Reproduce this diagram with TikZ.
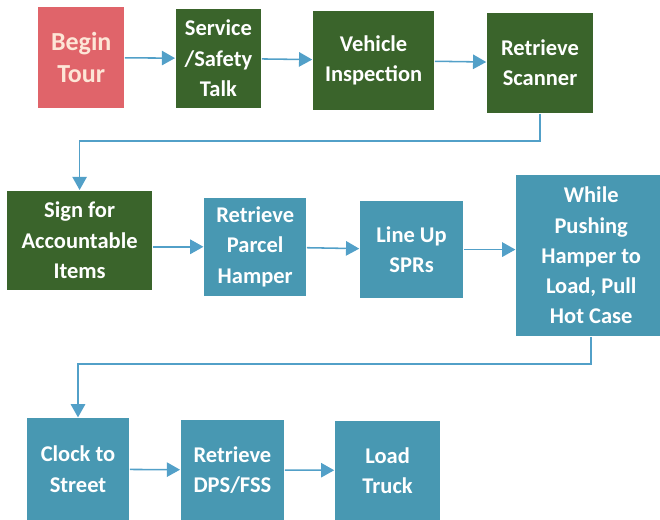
\documentclass[tikz,border=0pt]{standalone}
\usepackage{fontspec}
\setmainfont{Carlito}
\usepackage{tikz}
\usetikzlibrary{arrows.meta,calc,positioning}
\definecolor{tourred}{RGB}{224,100,106}
\definecolor{taskgreen}{RGB}{58,100,43}
\definecolor{taskblue}{RGB}{72,152,178}
\definecolor{lineblue}{RGB}{82,160,200}
\definecolor{peach}{RGB}{253,230,215}

\begin{document}
\begin{tikzpicture}
[-{Triangle[length=3.3mm,width=3.6mm]}, draw=lineblue, line width=1.1pt,
			box/.style={rectangle, inner sep=0pt, align=center, text=white,
			font=\fontsize{16}{21.5}\selectfont\bfseries}]
\useasboundingbox (0,0) rectangle (16.5,13);

\node (begin) at (2.03,11.56)[box,fill=tourred,text=peach,font=\fontsize{18.5}{23}\selectfont\bfseries,minimum width=2.15cm,minimum height=2.53cm] {Begin\\Tour};
\node (talk) at (5.46,11.54)[box,fill=taskgreen,minimum width=2.13cm,minimum height=2.48cm] {Service\\/Safety\\Talk};
\node (insp) at (9.34,11.49)[box,fill=taskgreen,minimum width=3.03cm,minimum height=2.48cm] {Vehicle\\Inspection};
\node (scan) at (13.5,11.43)[box,fill=taskgreen,minimum width=2.65cm,minimum height=2.5cm] {Retrieve\\Scanner};

\node (sign) at (1.99,6.99)[box,fill=taskgreen,minimum width=3.63cm,minimum height=2.48cm] {Sign for\\Accountable\\Items};
\node (hamp) at (6.38,6.83)[box,fill=taskblue,minimum width=2.55cm,minimum height=2.45cm] {Retrieve\\Parcel\\Hamper};
\node (spr) at (10.29,6.76)[box,fill=taskblue,minimum width=2.58cm,minimum height=2.43cm] {Line Up\\SPRs};
\node (hot) at (14.78,6.61)[box,fill=taskblue,minimum width=3.75cm,minimum height=4.03cm] {While\\Pushing\\Hamper to\\Load, Pull\\Hot Case};

\node (clock) at (1.95,1.27)[box,fill=taskblue,minimum width=2.55cm,minimum height=2.55cm] {Clock to\\Street};
\node (dps) at (5.81,1.25)[box,fill=taskblue,minimum width=2.58cm,minimum height=2.5cm] {Retrieve\\DPS/FSS};
\node (truck) at (9.69,1.24)[box,fill=taskblue,minimum width=2.63cm,minimum height=2.48cm] {Load\\Truck};

\draw (begin) -- (talk);
\draw (talk) -- (insp);
\draw (insp) -- (scan);
\draw (scan.south) -- ++(0,-0.68) -| (sign.north);

\draw (sign.east |- hamp) -- (hamp);
\draw (hamp) -- (spr);
\draw (spr) -- (hot.west |- spr);
\draw (hot.south) -- ++(0,-0.67) -| (clock.north);

\draw (clock) -- (dps);
\draw (dps) -- (truck);

\end{tikzpicture}
\end{document}
